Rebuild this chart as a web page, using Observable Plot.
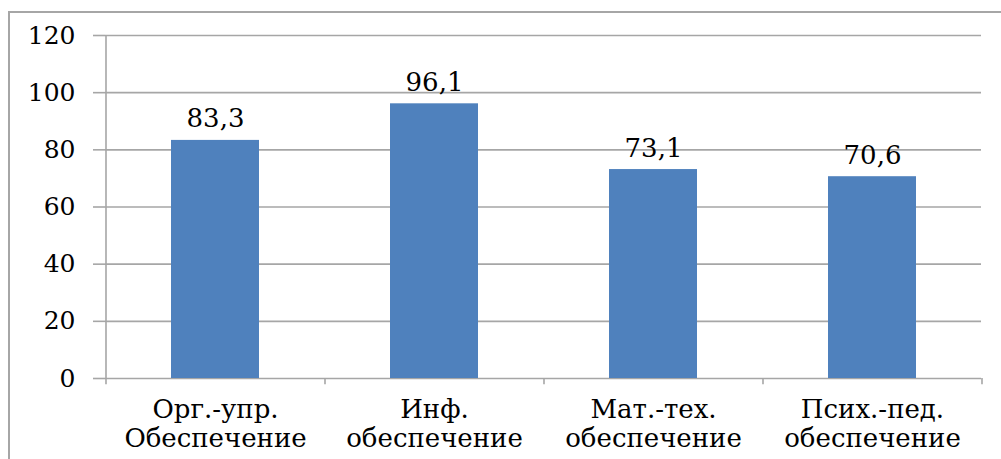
<!DOCTYPE html>
<html>
<head>
<meta charset="utf-8">
<script src="https://cdn.jsdelivr.net/npm/d3@7"></script>
<script src="https://cdn.jsdelivr.net/npm/@observablehq/plot@0.6"></script>
<style>
  html, body { margin: 0; padding: 0; background: #fff; }
  #wrap { position: relative; width: 1001px; height: 459px; overflow: hidden; }
  #frame { position: absolute; left: 8px; top: 11px; width: 1100px; height: 600px;
           border-left: 2px solid #a6a6a6; border-top: 2px solid #a6a6a6; }
  #chart { position: absolute; left: 0; top: 0; }
</style>
</head>
<body>
<div id="wrap"><div id="frame"></div><div id="chart"></div></div>
<script>
const categories = ["Орг.-упр.\nОбеспечение", "Инф.\nобеспечение", "Мат.-тех.\nобеспечение", "Псих.-пед.\nобеспечение"];
const values = [83.3, 96.1, 73.1, 70.6];
const yTicks = [0, 20, 40, 60, 80, 100, 120];

const data = categories.map((c, i) => ({category: c, value: values[i]}));
const W = 1001, H = 459;
const mL = 105, mR = 20, mT = 35, mB = 81;
const band = (W - mL - mR) / categories.length;
const grid = "#a6a6a6";
const font = "'DejaVu Serif', serif";

const boundaries = categories.map((c, i) => ({category: c, dx: -band / 2, top: i === 0 ? 120 : 0}))
  .concat([{category: categories[categories.length - 1], dx: band / 2, top: 0}]);

const chart = Plot.plot({
  width: W, height: H,
  marginLeft: mL, marginRight: mR, marginTop: mT, marginBottom: mB,
  style: {background: "transparent", color: "#000"},
  x: {domain: categories, paddingInner: 0.6, paddingOuter: 0.3, label: null},
  y: {domain: [0, 120], ticks: yTicks, label: null},
  marks: [
    Plot.gridY(yTicks, {stroke: grid, strokeOpacity: 1, strokeWidth: 1.6}),
    Plot.axisY(yTicks, {tickSize: 12, tickPadding: 18, stroke: grid, strokeWidth: 1.6, fontSize: 25, fontFamily: font, fill: "#000", tickFormat: d => String(d)}),
    Plot.barY(data, {x: "category", y: "value", fill: "#4F81BD"}),
    ...boundaries.map(b => Plot.ruleX([b.category], {y1: -2.2, y2: b.top, dx: b.dx, stroke: grid, strokeWidth: 1.6})),
    Plot.axisX({tickSize: 0, tickPadding: 19, fontSize: 26, fontFamily: font, lineHeight: 1.12, fill: "#000"}),
    Plot.text(data, {x: "category", y: "value", text: d => d.value.toFixed(1).replace(".", ","), lineAnchor: "bottom", dy: -13, fontSize: 26, fontFamily: font, fill: "#000"})
  ]
});
document.getElementById("chart").appendChild(chart);
</script>
</body>
</html>
